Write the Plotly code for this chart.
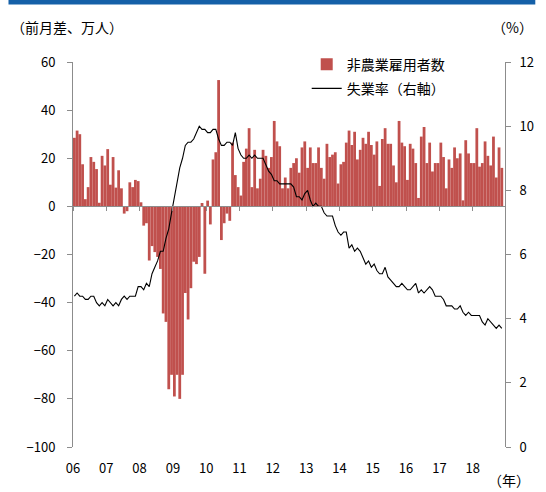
import pandas as pd
import plotly.graph_objects as go

# ---- data (non-farm payrolls, monthly change, 10k persons; unemployment rate %) ----
months = pd.date_range("2006-01-01", "2018-11-01", freq="MS")

payroll_2006 = [28.5, 31.5, 30, 17.5, 3, 8, 20.5, 18.5, 15.5, 1.5, 21, 17]
payroll_2007 = [23.8, 9, 20.5, 7.8, 15, 7.5, -3, -2, 10, 8, 11, 10.5]
payroll_2008 = [1.7, -8, -7, -22.5, -16.5, -19, -21, -26, -44.5, -48, -76, -70]
payroll_2009 = [-79, -70, -80, -70, -36, -47, -34, -23, -24, -21, 1.4, -28]
payroll_2010 = [2.4, -7.5, 19.5, 22.5, 52.5, -14, -7, -3, -6, 26.5, 13, 8]
payroll_2011 = [4.5, 18.5, 24, 32.5, 8, 23.5, 7.5, 11.5, 23.5, 21, 16, 20.5]
payroll_2012 = [35.5, 27, 25, 7.5, 12, 7.5, 16, 18, 20, 14, 24.5, 27]
payroll_2013 = [16, 24.5, 18, 18, 24.5, 16, 11.5, 26, 20.5, 21.5, 22.5, 9.5]
payroll_2014 = [17.5, 18.5, 26.5, 31.5, 25.5, 31, 19.5, 23.5, 28.5, 26, 31, 25.5]
payroll_2015 = [21.5, 27, 8.5, 28, 32.5, 26, 26, 17, 10, 35.5, 26.5, 25]
payroll_2016 = [11, 26, 24, 18, 3.5, 29, 33, 18, 26.5, 14.5, 18, 18]
payroll_2017 = [26.5, 20.5, 7.5, 19.5, 16, 24.5, 20, 22, 2.5, 27.5, 22, 18]
payroll_2018 = [18, 32.5, 16.5, 18, 27, 21, 17, 29, 12, 24.5, 16]

unemp_2006 = [4.7, 4.8, 4.7, 4.7, 4.6, 4.6, 4.7, 4.7, 4.5, 4.4, 4.5, 4.4]
unemp_2007 = [4.6, 4.5, 4.4, 4.5, 4.4, 4.6, 4.7, 4.6, 4.7, 4.7, 4.7, 5.0]
unemp_2008 = [5.0, 4.9, 5.1, 5.0, 5.4, 5.6, 5.8, 6.1, 6.1, 6.5, 6.8, 7.3]
unemp_2009 = [7.8, 8.3, 8.7, 9.0, 9.4, 9.5, 9.5, 9.6, 9.8, 10.0, 9.9, 9.9]
unemp_2010 = [9.8, 9.8, 9.9, 9.9, 9.6, 9.4, 9.4, 9.5, 9.5, 9.4, 9.8, 9.3]
unemp_2011 = [9.1, 9.0, 9.0, 9.1, 9.0, 9.1, 9.0, 9.0, 9.0, 8.8, 8.6, 8.5]
unemp_2012 = [8.3, 8.3, 8.2, 8.2, 8.2, 8.2, 8.2, 8.1, 7.8, 7.8, 7.7, 7.9]
unemp_2013 = [8.0, 7.7, 7.5, 7.6, 7.5, 7.5, 7.3, 7.2, 7.2, 7.2, 6.9, 6.7]
unemp_2014 = [6.6, 6.7, 6.7, 6.2, 6.3, 6.1, 6.2, 6.1, 5.9, 5.7, 5.8, 5.6]
unemp_2015 = [5.7, 5.5, 5.4, 5.4, 5.6, 5.3, 5.2, 5.1, 5.0, 5.0, 5.1, 5.0]
unemp_2016 = [4.9, 4.9, 5.0, 5.1, 4.8, 4.9, 4.8, 4.9, 5.0, 4.9, 4.7, 4.7]
unemp_2017 = [4.7, 4.6, 4.4, 4.4, 4.4, 4.3, 4.3, 4.4, 4.2, 4.1, 4.2, 4.1]
unemp_2018 = [4.1, 4.1, 4.1, 3.9, 3.8, 4.0, 3.9, 3.8, 3.7, 3.8, 3.7]

payrolls = (payroll_2006 + payroll_2007 + payroll_2008 + payroll_2009 + payroll_2010
            + payroll_2011 + payroll_2012 + payroll_2013 + payroll_2014 + payroll_2015
            + payroll_2016 + payroll_2017 + payroll_2018)
unemployment = (unemp_2006 + unemp_2007 + unemp_2008 + unemp_2009 + unemp_2010
                + unemp_2011 + unemp_2012 + unemp_2013 + unemp_2014 + unemp_2015
                + unemp_2016 + unemp_2017 + unemp_2018)

left_ticks = [60, 40, 20, 0, -20, -40, -60, -80, -100]
right_ticks = [12, 10, 8, 6, 4, 2, 0]

FONT = "Noto Sans CJK JP, Noto Sans, sans-serif"
AXIS_GREY = "#8c8c8c"
X_RANGE = ["2006-01-01", "2018-12-21"]
BAR_WIDTH_MS = 30.5 * 24 * 3600 * 1000  # about one month

fig = go.Figure()
fig.add_trace(go.Bar(
    x=months, y=payrolls, name="非農業雇用者数",
    marker=dict(color="#c0504d", line=dict(width=0)),
    xperiod="M1", xperiodalignment="middle", width=BAR_WIDTH_MS,
    legendgroup="a", xaxis="x", yaxis="y",
))
fig.add_trace(go.Scatter(
    x=months, y=unemployment, name="失業率（右軸）", mode="lines",
    line=dict(color="#000000", width=1.1),
    xperiod="M1", xperiodalignment="middle",
    legendgroup="b", xaxis="x", yaxis="y2",
))
# invisible helper trace so the zero-level axis (x2) is rendered
fig.add_trace(go.Scatter(
    x=[months[0]], y=[0], mode="markers", marker=dict(opacity=0),
    showlegend=False, hoverinfo="skip", xaxis="x2", yaxis="y",
))

fig.update_layout(
    width=546, height=492, autosize=False,
    margin=dict(l=73, r=31, t=62, b=45),
    paper_bgcolor="white", plot_bgcolor="white",
    font=dict(family=FONT, size=13, color="#000"),
    showlegend=True,
    legend=dict(
        x=0.541, y=1.035, xanchor="left", yanchor="top",
        bgcolor="rgba(0,0,0,0)", font=dict(size=14),
        traceorder="grouped", tracegroupgap=3, itemwidth=30,
    ),
    xaxis=dict(
        type="date", range=X_RANGE, tick0="2006-01-01", dtick="M12",
        tickformat="%y", ticks="", showline=False, showgrid=False,
        zeroline=False, ticklabelstandoff=12, tickfont=dict(size=13),
    ),
    xaxis2=dict(
        type="date", range=X_RANGE, overlaying="x", matches="x",
        anchor="free", position=0.625, tick0="2006-01-01", dtick="M12",
        ticks="outside", ticklen=4, tickcolor=AXIS_GREY,
        showticklabels=False, showline=True, linecolor=AXIS_GREY,
        linewidth=1, showgrid=False, zeroline=False,
    ),
    yaxis=dict(
        range=[-100, 60], tickvals=left_ticks, ticks="outside", ticklen=5,
        tickcolor=AXIS_GREY, showline=True, linecolor=AXIS_GREY,
        showgrid=False, zeroline=False, ticklabelstandoff=9,
        tickfont=dict(size=13),
    ),
    yaxis2=dict(
        range=[0, 12], tickvals=right_ticks, overlaying="y", side="right",
        anchor="x", ticks="outside", ticklen=5, tickcolor=AXIS_GREY,
        showline=True, linecolor=AXIS_GREY, showgrid=False, zeroline=False,
        ticklabelstandoff=6, tickfont=dict(size=13),
    ),
    shapes=[dict(
        type="rect", xref="paper", yref="paper",
        x0=(7 - 73) / 442, x1=(546 - 73) / 442,
        y0=(447 - 4.5) / 385, y1=(447 + 1) / 385,
        fillcolor="#1560a8", line=dict(width=0), layer="above",
    )],
    annotations=[
        dict(text="（前月差、万人）", xref="paper", yref="paper",
             x=(8 - 73) / 442, y=(447 - 27) / 385, xanchor="left",
             yanchor="middle", showarrow=False, font=dict(size=14)),
        dict(text="（%）", xref="paper", yref="paper",
             x=(546 - 73) / 442, y=(447 - 27) / 385, xanchor="right",
             yanchor="middle", showarrow=False, font=dict(size=14)),
        dict(text="（年）", xref="paper", yref="paper",
             x=(542 - 73) / 442, y=(447 - 480) / 385, xanchor="right",
             yanchor="middle", showarrow=False, borderpad=0,
             font=dict(size=14)),
    ],
)

fig.write_html("out.html")
